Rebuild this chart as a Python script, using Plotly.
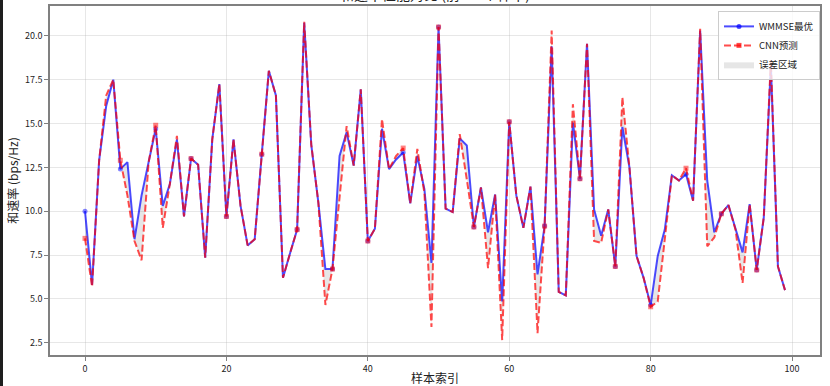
import plotly.graph_objects as go

# ---------------- data ----------------
sample_idx = list(range(100))

wmmse = [10.0, 5.8, 12.9, 16.0, 17.5, 12.4, 12.8, 8.4, 10.9, 12.8,
         14.7, 10.3, 11.55, 14.1, 9.7, 13.0, 12.65, 7.35, 14.1, 17.25,
         9.7, 14.1, 10.3, 8.05, 8.4, 13.25, 18.0, 16.6, 6.2, 7.6,
         8.95, 20.75, 13.8, 10.5, 6.7, 6.7, 13.15, 14.5, 12.6, 16.95,
         8.3, 9.0, 14.7, 12.4, 12.95, 13.35, 10.45, 13.15, 11.25, 7.05,
         20.5, 10.15, 9.95, 14.15, 13.75, 9.1, 11.35, 8.8, 10.95, 4.85,
         15.1, 10.9, 9.05, 11.4, 6.4, 9.15, 19.4, 5.4, 5.2, 15.05,
         11.85, 19.55, 10.1, 8.6, 10.1, 6.85, 14.8, 12.5, 7.45, 6.2,
         4.65, 7.45, 8.95, 12.05, 11.75, 12.1, 10.6, 20.3, 11.75, 8.8,
         9.85, 10.35, 8.95, 7.65, 10.4, 6.65, 9.65, 18.3, 6.85, 5.5]

cnn = [8.45, 5.7, 12.9, 16.6, 17.5, 12.9, 10.9, 8.3, 7.2, 12.8,
       14.9, 9.05, 11.55, 14.3, 9.7, 13.0, 12.65, 7.35, 14.1, 17.25,
       9.7, 14.1, 10.3, 8.05, 8.4, 13.25, 18.0, 16.6, 6.2, 7.6,
       8.95, 20.8, 13.8, 10.5, 4.65, 6.7, 11.0, 14.85, 12.6, 16.95,
       8.3, 9.0, 15.25, 12.4, 13.15, 13.6, 10.45, 13.55, 11.05, 3.4,
       20.5, 10.15, 9.95, 14.4, 11.8, 9.1, 11.35, 6.75, 10.95, 2.65,
       15.1, 10.9, 9.05, 11.4, 3.05, 9.15, 20.3, 5.4, 5.2, 16.1,
       11.85, 19.55, 8.3, 8.2, 10.1, 6.85, 16.5, 12.5, 7.45, 6.2,
       4.55, 4.85, 8.4, 12.05, 11.75, 12.45, 10.6, 20.4, 8.0, 8.5,
       9.85, 10.35, 8.95, 5.9, 10.4, 6.65, 9.65, 18.6, 6.85, 5.5]

x_tick_vals = [0, 20, 40, 60, 80, 100]
y_tick_vals = [2.5, 5.0, 7.5, 10.0, 12.5, 15.0, 17.5, 20.0]
y_tick_text = ["2.5", "5.0", "7.5", "10.0", "12.5", "15.0", "17.5", "20.0"]

name_wmmse = "WMMSE最优"
name_cnn = "CNN预测"
name_err = "误差区域"
title_text = "和速率性能对比 (前100个样本)"
x_title = "样本索引"
y_title = "和速率 (bps/Hz)"

FONT = "Noto Sans CJK SC, DejaVu Sans, sans-serif"
BLUE = "rgba(0,0,255,0.7)"
RED = "rgba(255,0,0,0.7)"

mark_every = 5
marker_sizes = [5 if i % mark_every == 0 else 0 for i in sample_idx]

fig = go.Figure()

# legend entries (first so they lead the legend)
fig.add_trace(go.Scatter(x=[None], y=[None], mode="lines+markers", name=name_wmmse,
                         line=dict(color=BLUE, width=2),
                         marker=dict(symbol="circle", size=5, color=BLUE),
                         legendrank=1))
fig.add_trace(go.Scatter(x=[None], y=[None], mode="lines+markers", name=name_cnn,
                         line=dict(color=RED, width=2, dash="7px,3px"),
                         marker=dict(symbol="square", size=5, color=RED),
                         legendrank=2))

# error area (fill between)
fig.add_trace(go.Scatter(x=sample_idx, y=wmmse, mode="lines",
                         line=dict(width=0, color="rgba(0,0,0,0)"),
                         showlegend=False, hoverinfo="skip"))
fig.add_trace(go.Scatter(x=sample_idx, y=cnn, mode="lines", fill="tonexty",
                         fillcolor="rgba(128,128,128,0.2)",
                         line=dict(width=0, color="rgba(0,0,0,0)"),
                         name=name_err, legendrank=3, showlegend=True))

# WMMSE line
fig.add_trace(go.Scatter(x=sample_idx, y=wmmse, mode="lines+markers",
                         line=dict(color=BLUE, width=2),
                         marker=dict(symbol="circle", size=marker_sizes, color=BLUE,
                                     line=dict(width=0)),
                         showlegend=False))
# CNN line
fig.add_trace(go.Scatter(x=sample_idx, y=cnn, mode="lines+markers",
                         line=dict(color=RED, width=2, dash="7px,3px"),
                         marker=dict(symbol="square", size=marker_sizes, color=RED,
                                     line=dict(width=0)),
                         showlegend=False))

axis_common = dict(
    showgrid=True, gridcolor="rgba(176,176,176,0.3)", gridwidth=1,
    showline=True, linecolor="#808080", linewidth=1.5, mirror=True,
    ticks="outside", ticklen=4, tickwidth=1, tickcolor="#808080",
    zeroline=False,
    tickfont=dict(family=FONT, size=9, color="#222"),
)

fig.update_layout(
    width=830, height=386,
    margin=dict(l=50, r=10, t=6, b=31),
    paper_bgcolor="white", plot_bgcolor="white",
    font=dict(family=FONT, size=10, color="#222"),
    showlegend=True,
    legend=dict(x=1.0, y=0.986, xanchor="right", yanchor="top",
                traceorder="normal",
                bgcolor="rgba(255,255,255,0.8)", bordercolor="#cccccc", borderwidth=1,
                font=dict(family=FONT, size=9.5, color="#222"),
                tracegroupgap=0, itemwidth=30),
    xaxis=dict(range=[-4.95, 103.95], tickvals=x_tick_vals,
               title=dict(text=x_title, font=dict(family=FONT, size=12, color="#222"), standoff=3),
               automargin=False, **axis_common),
    yaxis=dict(range=[1.8, 21.7], tickvals=y_tick_vals, ticktext=y_tick_text,
               title=dict(text=y_title, font=dict(family=FONT, size=12, color="#222"), standoff=4),
               automargin=False, **axis_common),
    annotations=[dict(text=title_text, xref="paper", yref="paper", x=0.5, y=1.0 - 0.5 / 349,
                      xanchor="center", yanchor="bottom", showarrow=False,
                      font=dict(family=FONT, size=14, color="#222"))],
    shapes=[dict(type="rect", xref="paper", yref="paper",
                 x0=-50 / 770, x1=-47 / 770, y0=-31 / 349, y1=1 + 6 / 349,
                 fillcolor="#1e1e1e", line=dict(width=0), layer="above")],
)

fig.write_html("out.html", post_script="document.body.style.margin='0';",
               config={"displayModeBar": False})
